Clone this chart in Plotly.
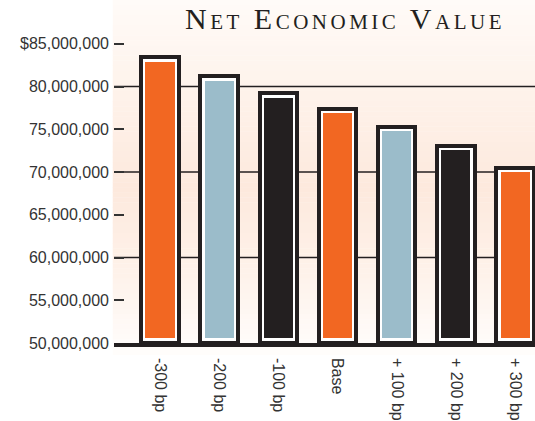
import plotly.graph_objects as go

# Net economic value under rate-shock scenarios
categories = ["-300 bp", "-200 bp", "-100 bp", "Base", "+ 100 bp", "+ 200 bp", "+ 300 bp"]
nev_values = [82.9e6, 80.7e6, 78.7e6, 76.9e6, 74.8e6, 72.6e6, 70.0e6]
bar_colors = ["#F26722", "#9BBCCA", "#231F20", "#F26722", "#9BBCCA", "#231F20", "#F26722"]

tick_values = [50e6, 55e6, 60e6, 65e6, 70e6, 75e6, 80e6, 85e6]
tick_labels = ["50,000,000", "55,000,000", "60,000,000", "65,000,000",
               "70,000,000", "75,000,000", "80,000,000", "$85,000,000"]
grid_values = [60e6, 70e6, 80e6]

AXIS_BASE = 50e6
FRAME_PAD = 0.5e6      # frame sits a little above each bar
INNER_BASE = 50.6e6    # coloured bar floats just above the axis
DARK = "#231F20"
TEXT = "#333333"

x_idx = list(range(len(categories)))

fig = go.Figure()

# white frame with dark outline around each bar
fig.add_trace(go.Bar(
    x=x_idx,
    y=[v + FRAME_PAD - AXIS_BASE for v in nev_values],
    base=AXIS_BASE,
    width=0.632,
    marker=dict(color="white", line=dict(color=DARK, width=4)),
    hoverinfo="skip",
    showlegend=False,
))

# coloured value bars
fig.add_trace(go.Bar(
    x=x_idx,
    y=[v - INNER_BASE for v in nev_values],
    base=INNER_BASE,
    width=0.49,
    marker=dict(color=bar_colors, line=dict(width=0)),
    customdata=nev_values,
    hovertemplate="%{customdata:$,.0f}<extra></extra>",
    showlegend=False,
))

# soft peach vertical gradient behind the plot
def lerp(c1, c2, t):
    return tuple(round(a + (b - a) * t) for a, b in zip(c1, c2))

stops = [  # (paper y, rgb) from top to bottom
    (1.00, (255, 251, 248)),
    (0.72, (254, 242, 234)),
    (0.45, (253, 233, 221)),
    (0.20, (254, 242, 234)),
    (-0.035, (255, 253, 252)),
]
shapes = []
n_strips = 70
y_top, y_bot = 1.0, -0.035
for i in range(n_strips):
    y1 = y_top - (y_top - y_bot) * i / n_strips
    y0 = y_top - (y_top - y_bot) * (i + 1) / n_strips
    ym = (y0 + y1) / 2
    for (ya, ca), (yb, cb) in zip(stops[:-1], stops[1:]):
        if yb <= ym <= ya:
            c = lerp(ca, cb, (ya - ym) / (ya - yb))
            break
    shapes.append(dict(
        type="rect", xref="paper", yref="paper",
        x0=-0.003, x1=1.0, y0=y0, y1=y1 + 0.001,
        fillcolor="rgb(%d,%d,%d)" % c, line=dict(width=0), layer="below",
    ))

# horizontal rules every 10 million
for g in grid_values:
    shapes.append(dict(
        type="line", xref="paper", yref="y", x0=0, x1=1, y0=g, y1=g,
        line=dict(color=DARK, width=1.6), layer="between",
    ))

SC = "font-size:21px"
title_text = ("<span style='letter-spacing:3.5px'>"
              "N<span style='%s'>ET</span> "
              "E<span style='%s'>CONOMIC</span> "
              "V<span style='%s'>ALUE</span></span>" % (SC, SC, SC))

fig.update_layout(
    width=535, height=421,
    margin=dict(l=114, r=0, t=0, b=76),
    paper_bgcolor="white",
    plot_bgcolor="white",
    barmode="overlay",
    bargap=0,
    shapes=shapes,
    font=dict(family="Liberation Sans, Arial, sans-serif", size=16, color=TEXT),
    annotations=[dict(
        text=title_text, xref="paper", yref="paper",
        x=0.548, y=0.945, xanchor="center", yanchor="middle",
        showarrow=False,
        font=dict(family="Liberation Serif, Times New Roman, serif", size=30, color=DARK),
    )],
    xaxis=dict(
        tickvals=x_idx, ticktext=categories, tickangle=90,
        range=[-0.777, 6.335],
        showline=True, linewidth=3.5, linecolor=DARK,
        ticks="", ticklabelstandoff=8,
        showgrid=False, zeroline=False,
        tickfont=dict(size=16, color=TEXT),
        fixedrange=True,
    ),
    yaxis=dict(
        tickvals=tick_values, ticktext=tick_labels,
        range=[AXIS_BASE, 90.12e6],
        ticks="inside", ticklen=10, tickwidth=1.5, tickcolor=TEXT,
        ticklabelstandoff=4,
        showgrid=False, zeroline=False, showline=False,
        tickfont=dict(size=16, color=TEXT),
        fixedrange=True,
    ),
)

fig.write_html("out.html")
